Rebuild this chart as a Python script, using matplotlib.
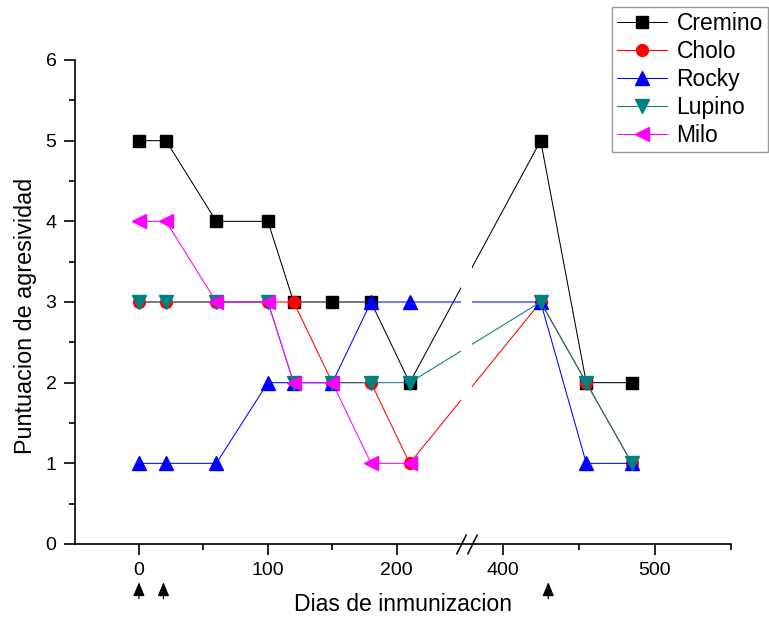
import numpy as np
import matplotlib
matplotlib.use('Agg')
import matplotlib.pyplot as plt
from matplotlib.path import Path

plt.rcParams['font.family'] = ['Liberation Sans', 'DejaVu Sans']

# datos
dias = [0, 21, 60, 100, 120, 150, 180, 210, 425, 455, 485]
cremino = [5, 5, 4, 4, 3, 3, 3, 2, 5, 2, 2]
cholo = [3, 3, 3, 3, 3, 2, 2, 1, 3, 2, 1]
rocky = [1, 1, 1, 2, 2, 2, 3, 3, 3, 1, 1]
lupino = [3, 3, 3, 3, 2, 2, 2, 2, 3, 2, 1]
dias_milo = [0, 21, 60, 100, 120, 150, 180, 210]
milo = [4, 4, 3, 3, 2, 2, 1, 1]
inmunizacion = [0, 19, 430]  # flechas bajo el eje

# eje x cortado: 250 -> 380
b0, b1 = 250, 380
k = 1.18   # el tramo derecho va mas estirado
gap = 8.5


def fwd(d):
    d = np.asarray(d, float)
    return np.where(d <= b0, d,
                    np.where(d >= b1, b0 + gap + (d - b1) * k,
                             b0 + (d - b0) * gap / (b1 - b0)))


def inv(u):
    u = np.asarray(u, float)
    return np.where(u <= b0, u,
                    np.where(u >= b0 + gap, b1 + (u - b0 - gap) / k,
                             b0 + (u - b0) * (b1 - b0) / gap))


fig = plt.figure(figsize=(7.69, 6.17), dpi=100)
ax = fig.add_axes([74.5 / 769, 1 - 544 / 617, (730.8 - 74.5) / 769, (544 - 60) / 617])
ax.set_xscale('function', functions=(fwd, inv))

lw = 0.75
ax.plot(dias, cremino, '-s', color='black', lw=lw, ms=8, label='Cremino')
ax.plot(dias, cholo, '-o', color='red', lw=lw, ms=8.5, label='Cholo')
ax.plot(dias, rocky, '-^', color='blue', lw=lw, ms=10, label='Rocky')
ax.plot(dias, lupino, '-v', color='teal', lw=lw, ms=10, label='Lupino')
ax.plot(dias_milo, milo, '-<', color='magenta', lw=lw, ms=10, label='Milo')

# hueco blanco en el corte
ax.axvspan(b0, b1, color='white', zorder=2.2, lw=0)
brk = Path([(-0.5, -1), (0.5, 1)], [Path.MOVETO, Path.LINETO])
ax.plot([b0, b1], [0, 0], ls='none', marker=brk, ms=14.4, mec='black', mew=1.1,
        clip_on=False, zorder=5)

for d in inmunizacion:
    ax.annotate('', xy=(d, -0.079), xytext=(d, -0.113),
                xycoords=('data', 'axes fraction'), textcoords=('data', 'axes fraction'),
                arrowprops=dict(arrowstyle='-|>,head_length=0.6,head_width=0.25',
                                color='black', lw=0.9, mutation_scale=14,
                                shrinkA=0, shrinkB=0))

ax.set_xlim(-50, 550)
ax.set_ylim(0, 6)
ax.set_xticks([0, 100, 200, 400, 500])
ax.set_xticklabels(['0', '100', '200', '400', '500'])
ax.set_xticks([50, 150, 450, 550], minor=True)
ax.set_yticks(range(7))
ax.set_yticks(np.arange(0.5, 6, 1), minor=True)
ax.tick_params(which='major', direction='out', length=8, width=1.2, labelsize=14, pad=5)
ax.tick_params(which='minor', direction='out', length=4, width=1.2)
ax.spines['top'].set_visible(False)
ax.spines['right'].set_visible(False)
ax.spines['left'].set_linewidth(1.2)
ax.spines['bottom'].set_linewidth(1.2)

ax.set_xlabel('Dias de inmunizacion', fontsize=16.6)
ax.xaxis.set_label_coords(0.5, -0.126)
ax.xaxis.label.set_va('center')
ax.set_ylabel('Puntuacion de agresividad', fontsize=16.8)
ax.yaxis.set_label_coords(-0.0754, 0.471)
ax.yaxis.label.set_va('center')

leg = ax.legend(loc='upper right', bbox_to_anchor=(768 / 769, 1 - 7 / 617),
                bbox_transform=fig.transFigure, fancybox=False, edgecolor='gray',
                fontsize=16.5, handlelength=2.2, borderaxespad=0, labelspacing=0.22,
                borderpad=0.22, handletextpad=0.4)
leg.get_frame().set_linewidth(1.0)

fig.savefig('out.png', dpi=100)
